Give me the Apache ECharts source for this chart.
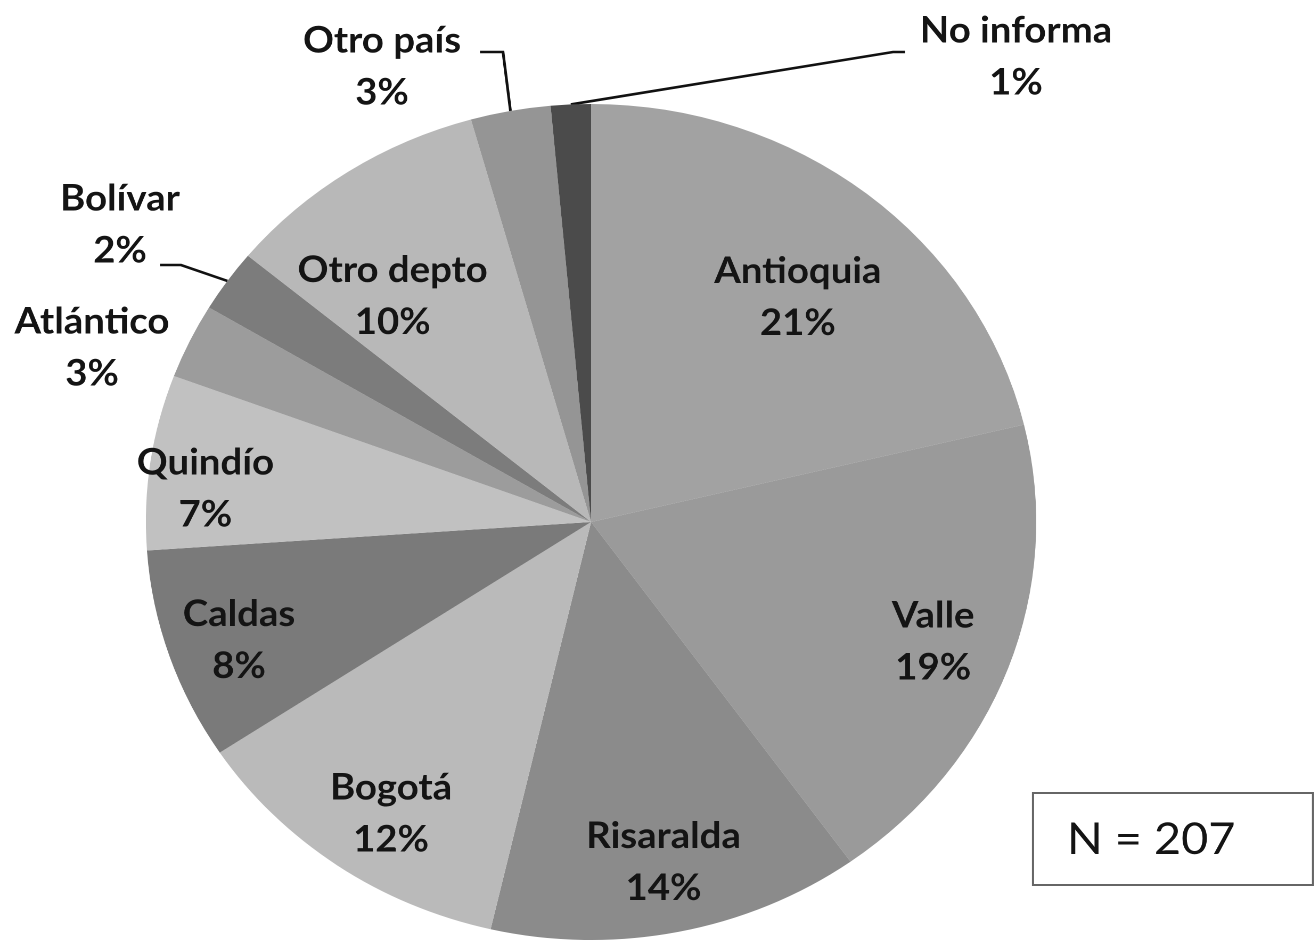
<!DOCTYPE html>
<html>
<head>
<meta charset="utf-8">
<title>Procedencia</title>
<script src="https://cdn.jsdelivr.net/npm/echarts@6/dist/echarts.min.js"></script>
<style>
html, body { margin: 0; padding: 0; background: #fff; overflow: hidden; }
/* el gráfico original está algo estirado a lo ancho */
#chart { width: 1236px; height: 942px; transform: scaleX(1.065); transform-origin: 0 0; }
</style>
</head>
<body>
<div id="chart"></div>
<script>
// datos (N = 207)
const categories = ['Antioquia', 'Valle', 'Risaralda', 'Bogotá', 'Caldas', 'Quindío', 'Atlántico', 'Bolívar', 'Otro depto', 'Otro país', 'No informa'];
const counts = [44, 39, 28, 25, 17, 14, 6, 5, 20, 6, 3];
const totalN = 207;

// estilos
const stretchX = 1.065;
const shades = ['#a2a2a2', '#9a9a9a', '#8b8b8b', '#bababa', '#7a7a7a', '#c1c1c1', '#9c9c9c', '#7c7c7c', '#b8b8b8', '#959595', '#4b4b4b'];
const pieCenter = [555, 522];
const pieRadius = 418;
// etiquetas internas: [fracción del radio, giro en grados]
const insideSpots = {
    'Antioquia': [0.71, 2.6], 'Valle': [0.82, 0], 'Risaralda': [0.83, 0], 'Bogotá': [0.83, -2],
    'Caldas': [0.84, -1], 'Quindío': [0.87, -3], 'Otro depto': [0.70, -6.5]
};
// etiquetas externas (coordenadas de pantalla) con línea guía
const callouts = {
    'Atlántico': { label: [92, 348] },
    'Bolívar': { label: [120, 225], bend: [[181, 265], [160, 265]] },
    'Otro país': { label: [382, 67], bend: [[503, 52], [480, 52]] },
    'No informa': { label: [1016, 57], bend: [[893, 52], [905, 52]] }
};
function sx(p) { return [p[0] / stretchX, p[1]]; }

const chart = echarts.init(document.getElementById('chart'), null, { devicePixelRatio: 2 });

const pieData = categories.map(function (name, i) {
    const outside = !!callouts[name];
    return {
        name: name,
        value: counts[i],
        itemStyle: { color: shades[i] },
        label: { position: outside ? 'outside' : 'inside' },
        labelLine: { show: outside && !!callouts[name].bend }
    };
});

chart.setOption({
    backgroundColor: '#ffffff',
    animation: false,
    series: [{
        type: 'pie',
        center: pieCenter,
        radius: pieRadius,
        startAngle: 90,
        clockwise: true,
        percentPrecision: 0,
        avoidLabelOverlap: false,
        emphasis: { disabled: true },
        itemStyle: { borderWidth: 0 },
        label: {
            formatter: '{b}\n{d}%',
            fontFamily: 'Lato',
            fontWeight: 'bold',
            fontSize: 36,
            lineHeight: 52,
            color: '#141414'
        },
        labelLine: {
            length: 20,
            length2: 20,
            lineStyle: { color: '#111', width: 2.6 }
        },
        labelLayout: function (p) {
            const name = categories[p.dataIndex];
            const c = callouts[name];
            if (c) {
                const pos = sx(c.label);
                const out = { x: pos[0], y: pos[1], align: 'center', verticalAlign: 'middle' };
                if (c.bend && p.labelLinePoints) {
                    out.labelLinePoints = [p.labelLinePoints[0], sx(c.bend[0]), sx(c.bend[1])];
                }
                return out;
            }
            const r = p.labelRect;
            const lx = r.x + r.width / 2 - pieCenter[0];
            const ly = r.y + r.height / 2 - pieCenter[1];
            const spot = insideSpots[name] || [0.8, 0];
            const ang = Math.atan2(ly, lx) + spot[1] * Math.PI / 180;
            const reach = spot[0] * pieRadius;
            return {
                x: pieCenter[0] + Math.cos(ang) * reach,
                y: pieCenter[1] + Math.sin(ang) * reach,
                align: 'center',
                verticalAlign: 'middle'
            };
        },
        data: pieData
    }],
    graphic: [{
        type: 'group',
        x: 1033 / stretchX,
        y: 793,
        children: [{
            type: 'rect',
            shape: { x: 0, y: 0, width: 280 / stretchX, height: 92 },
            style: { fill: '#fff', stroke: '#666', lineWidth: 2 }
        }, {
            type: 'text',
            x: 111,
            y: 47,
            style: {
                text: 'N = ' + totalN,
                font: '44px Lato',
                fill: '#141414',
                align: 'center',
                verticalAlign: 'middle'
            }
        }]
    }]
});
</script>
</body>
</html>
